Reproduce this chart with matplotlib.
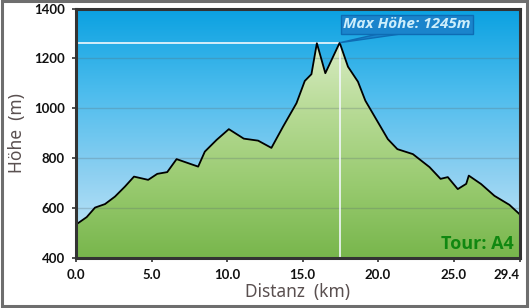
import numpy as np
import matplotlib.pyplot as plt
from matplotlib.colors import LinearSegmentedColormap
from matplotlib.patches import Rectangle, Polygon

# Elevation profile (km, m)
dist = [0.0, 0.71, 1.26, 1.92, 2.58, 3.24, 3.84, 4.78, 5.38, 6.04, 6.66, 8.09,
        8.53, 9.31, 10.12, 11.11, 12.06, 12.94, 13.71, 14.6, 15.15, 15.59,
        15.95, 16.51, 17.46, 18.01, 18.67, 19.16, 20.65, 21.28, 22.31, 23.41,
        24.14, 24.62, 25.28, 25.84, 26.01, 26.83, 27.71, 28.7, 29.4]
elev = [535, 565, 603, 617, 647, 687, 727, 714, 738, 745, 797, 767,
        827, 874, 917, 879, 871, 842, 927, 1021, 1110, 1137,
        1261, 1141, 1263, 1167, 1107, 1031, 877, 837, 817, 765,
        718, 725, 677, 698, 731, 697, 650, 614, 575]
x_ticks = [0.0, 5.0, 10.0, 15.0, 20.0, 25.0, 29.4]
x_labels = ["0.0", "5.0", "10.0", "15.0", "20.0", "25.0", "29.4"]
y_ticks = [400, 600, 800, 1000, 1200, 1400]
max_label = "Max Höhe: 1245m"
tour_label = "Tour: A4"

dist = np.array(dist)
elev = np.array(elev)
i_max = int(np.argmax(elev))

fig = plt.figure(figsize=(5.3, 3.08), dpi=100)
fig.patches.append(Rectangle((0.003, 0.006), 0.992, 0.99, transform=fig.transFigure,
                             fill=False, edgecolor="#6e6e6e", linewidth=2.2))
ax = fig.add_axes([0.1434, 0.1614, 0.8377, 0.811])
x0, x1, y0, y1 = 0, 29.4, 400, 1400
ax.set_xlim(x0, x1)
ax.set_ylim(y0, y1)

# blue sky gradient
sky = LinearSegmentedColormap.from_list("sky", ["#cdebf9", "#8ed0f1", "#4cbced", "#0aa1e1"])
grad = np.linspace(0, 1, 256).reshape(-1, 1)
ax.imshow(grad, cmap=sky, origin="lower", aspect="auto",
          extent=[x0, x1, y0, y1], zorder=0)

# green ground gradient, clipped by the profile
ground = LinearSegmentedColormap.from_list("ground", ["#78b64c", "#98ca6f", "#b6da94", "#d8ecc3"])
img = ax.imshow(grad, cmap=ground, origin="lower", aspect="auto",
                extent=[x0, x1, y0, elev.max()], zorder=1)
poly = Polygon(np.column_stack([np.r_[dist, dist[-1], dist[0]],
                                np.r_[elev, y0, y0]]),
               closed=True, facecolor="none", edgecolor="none")
ax.add_patch(poly)
img.set_clip_path(poly)

for yv in [600, 800, 1000, 1200]:
    ax.axhline(yv, color="#5a6a70", alpha=0.28, lw=1, zorder=2)

ax.plot(dist, elev, color="black", lw=1.3, zorder=4)

# max marker lines
ax.plot([x0, dist[i_max]], [elev[i_max], elev[i_max]], color="#f2f8fc", lw=1.2, zorder=3)
ax.plot([dist[i_max], dist[i_max]], [y0, elev[i_max]], color="#f2f8fc", lw=1.2, zorder=3)

# callout
ax.add_patch(Polygon([[dist[i_max], elev[i_max]], [20.0, 1298], [21.5, 1298]],
                     closed=True, facecolor="#1a84cc", edgecolor="#0e6cb4", lw=1, zorder=5))
ax.text(21.9, 1336, max_label, ha="center", va="center", fontsize=11,
        fontstyle="italic", fontweight="bold", color="#cdeefb", family="Open Sans",
        zorder=6,
        bbox=dict(boxstyle="square,pad=0.15", facecolor="#1a84cc", edgecolor="#0e6cb4", lw=1))

ax.text(0.985, 0.02, tour_label, transform=ax.transAxes, ha="right", va="bottom",
        fontsize=13, fontweight="bold", color="#118811", family="Open Sans", zorder=6)

for s in ax.spines.values():
    s.set_color("#333333")
    s.set_linewidth(2.2)
    s.set_zorder(7)

ax.set_xticks(x_ticks)
ax.set_xticklabels(x_labels)
ax.set_yticks(y_ticks)
ax.tick_params(direction="out", length=3, width=1.2, color="#333333", pad=5)
for lab in ax.get_xticklabels() + ax.get_yticklabels():
    lab.set_fontfamily("Lato")
    lab.set_fontweight("bold")
    lab.set_fontsize(9.5)
    lab.set_color("#111111")
ax.get_xticklabels()[-1].set_horizontalalignment("right")

ax.set_xlabel("Distanz  (km)", fontsize=12.5, color="#5a5050", family="Noto Sans", labelpad=1)
ax.set_ylabel("Höhe  (m)", fontsize=12.5, color="#5a5050", family="Noto Sans", labelpad=6)

fig.savefig("out.png", dpi=100)
